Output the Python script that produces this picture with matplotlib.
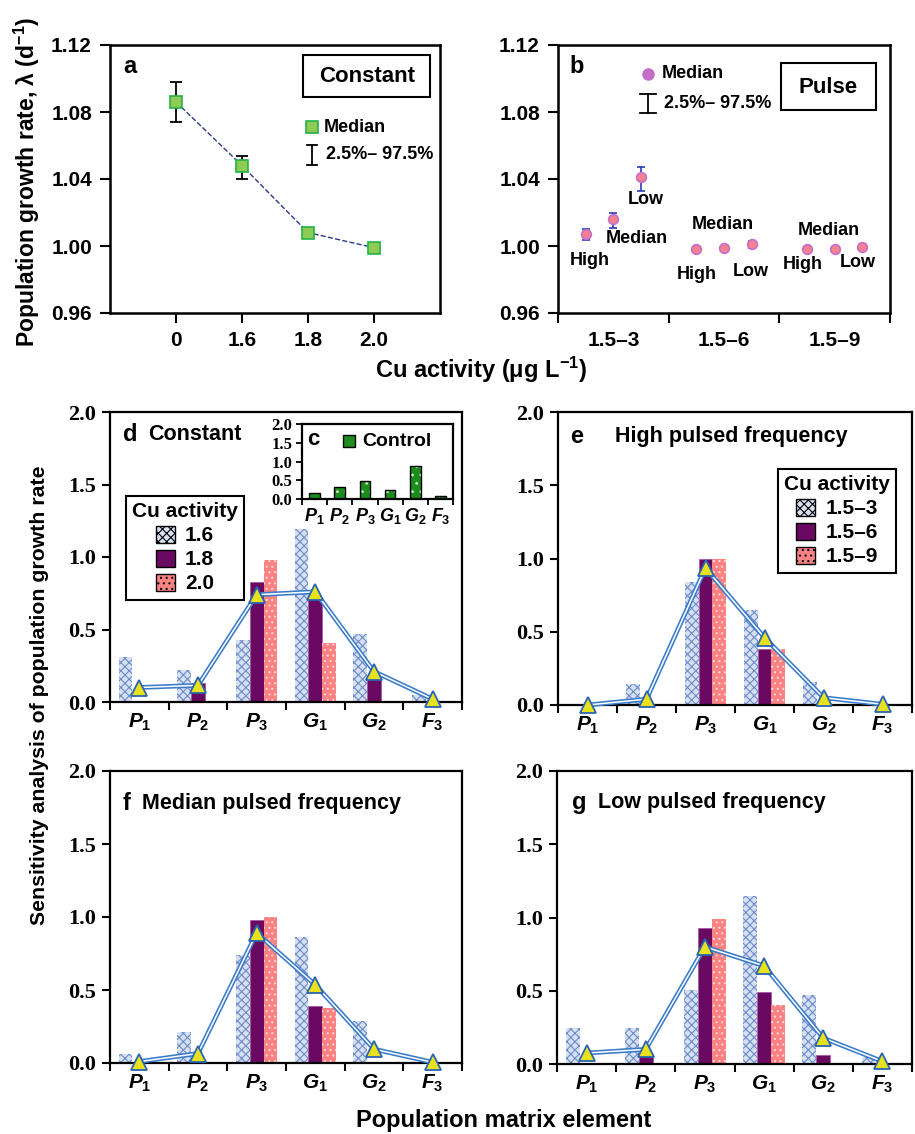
import numpy as np
import matplotlib
matplotlib.use('Agg')
import matplotlib.pyplot as plt
from matplotlib.patches import Rectangle, Patch

plt.rcParams['font.family'] = ['Liberation Sans', 'DejaVu Sans']
plt.rcParams['font.weight'] = 'bold'
plt.rcParams['mathtext.fontset'] = 'custom'
plt.rcParams['mathtext.rm'] = 'Liberation Sans:bold'
plt.rcParams['mathtext.it'] = 'Liberation Sans:italic:bold'
plt.rcParams['mathtext.bf'] = 'Liberation Sans:bold'
plt.rcParams['hatch.linewidth'] = 0.8

# ---- panel a: constant exposure ----
conc_const = ['0', '1.6', '1.8', '2.0']
lam_const = [1.086, 1.048, 1.008, 0.999]
lam_const_lo = [1.074, 1.040, 1.005, 0.999]
lam_const_hi = [1.098, 1.054, 1.011, 0.999]

# ---- panel b: pulse exposure (High, Median, Low frequency) ----
pulse_groups = ['1.5–3', '1.5–6', '1.5–9']
freq_names = ['High', 'Median', 'Low']
lam_pulse = [[1.007, 1.016, 1.041], [0.998, 0.9987, 1.0014], [0.998, 0.998, 0.9992]]
lam_pulse_lo = [[1.0036, 1.011, 1.033], [0.997, 0.9975, 0.9987], [0.997, 0.997, 0.998]]
lam_pulse_hi = [[1.0103, 1.020, 1.047], [0.999, 0.9995, 1.003], [0.9988, 0.9988, 0.9998]]

# ---- sensitivity panels ----
elements = [r'$P_1$', r'$P_2$', r'$P_3$', r'$G_1$', r'$G_2$', r'$F_3$']
control = [0.16, 0.31, 0.49, 0.24, 0.88, 0.08]

const_16 = [0.31, 0.22, 0.43, 1.19, 0.47, 0.05]
const_18 = [0.01, 0.13, 0.83, 0.71, 0.17, 0.01]
const_20 = [0.0, 0.005, 0.98, 0.41, 0.005, 0.01]
const_tri = [0.10, 0.115, 0.74, 0.76, 0.21, 0.02]

high_3 = [0.01, 0.14, 0.84, 0.65, 0.16, 0.01]
high_6 = [0.0, 0.0, 1.0, 0.38, 0.01, 0.0]
high_9 = [0.0, 0.0, 1.0, 0.38, 0.0, 0.0]
high_tri = [0.0, 0.04, 0.935, 0.46, 0.05, 0.005]

med_3 = [0.06, 0.21, 0.74, 0.86, 0.285, 0.01]
med_6 = [0.0, 0.01, 0.98, 0.39, 0.01, 0.0]
med_9 = [0.0, 0.0, 1.0, 0.375, 0.0, 0.0]
med_tri = [0.01, 0.065, 0.89, 0.535, 0.095, 0.005]

low_3 = [0.245, 0.245, 0.505, 1.145, 0.47, 0.05]
low_6 = [0.0, 0.057, 0.93, 0.49, 0.064, 0.0]
low_9 = [0.0, 0.005, 0.99, 0.40, 0.005, 0.0]
low_tri = [0.075, 0.10, 0.80, 0.67, 0.177, 0.018]

const_labels = ['1.6', '1.8', '2.0']
pulse_labels = ['1.5–3', '1.5–6', '1.5–9']

BLUE_FACE = '#d6e0f3'
BLUE_HATCH = '#6f8cc8'
PURPLE = '#690962'
SALMON = '#fa8282'
W, H = 915, 1134


def fx(px):
    return px / W


def fy(py):
    return 1 - py / H


def box(px0, py0, px1, py1):
    return [fx(px0), fy(py1), fx(px1) - fx(px0), fy(py0) - fy(py1)]


def spines(ax, lw=1.8):
    for s in ax.spines.values():
        s.set_linewidth(lw)


fig = plt.figure(figsize=(9.15, 11.34), dpi=100)

# ---------------- panel a ----------------
ax = fig.add_axes(box(110, 45, 440, 313))
spines(ax)
xa = np.arange(1, len(conc_const) + 1)
yerr = [np.array(lam_const) - np.array(lam_const_lo), np.array(lam_const_hi) - np.array(lam_const)]
ax.errorbar(xa, lam_const, yerr=yerr, fmt='none', ecolor='black', elinewidth=1.3, capsize=4, capthick=1.3)
ax.plot(xa, lam_const, ls='--', color='#2a3a8a', lw=1.0, zorder=3)
ax.plot(xa, lam_const, ls='none', marker='s', ms=8, mfc='#8fcc55', mec='#22b24a', mew=1.2, zorder=4)
ax.set_xlim(0, 5)
ax.set_ylim(0.96, 1.12)
ax.set_xticks(xa)
ax.set_xticklabels(conc_const)
ax.set_yticks([0.96, 1.00, 1.04, 1.08, 1.12])
ax.set_yticklabels(['0.96', '1.00', '1.04', '1.08', '1.12'])
ax.tick_params(direction='out', length=7, width=1.5, labelsize=15, pad=6)
ax.text(0.06, 0.918, 'a', transform=ax.transAxes, fontsize=17, ha='center', va='center')
ax.add_patch(Rectangle((0.585, 0.806), 0.385, 0.157, transform=ax.transAxes, fill=False, lw=1.5, ec='black'))
ax.text(0.779, 0.884, 'Constant', transform=ax.transAxes, fontsize=16, ha='center', va='center')
ax.plot([0.612], [0.694], transform=ax.transAxes, marker='s', ms=8, mfc='#8fcc55', mec='#22b24a', mew=1.2)
ax.text(0.648, 0.694, 'Median', transform=ax.transAxes, fontsize=13, va='center')
ax.plot([0.612, 0.612], [0.552, 0.627], transform=ax.transAxes, color='black', lw=1.3)
ax.plot([0.597, 0.627], [0.552, 0.552], transform=ax.transAxes, color='black', lw=1.3)
ax.plot([0.597, 0.627], [0.627, 0.627], transform=ax.transAxes, color='black', lw=1.3)
ax.text(0.655, 0.59, '2.5%– 97.5%', transform=ax.transAxes, fontsize=13, va='center')

# ---------------- panel b ----------------
ax = fig.add_axes(box(558, 45, 890, 313))
spines(ax)
offsets = [0.25, 0.5, 0.75]
for g in range(len(pulse_groups)):
    xs = [g + o for o in offsets]
    ys = np.array(lam_pulse[g])
    yerr = [ys - np.array(lam_pulse_lo[g]), np.array(lam_pulse_hi[g]) - ys]
    ax.errorbar(xs, ys, yerr=yerr, fmt='none', ecolor='#2b3bb5', elinewidth=1.2, capsize=3, capthick=1.2)
    ax.plot(xs, ys, ls='none', marker='o', ms=7, mfc='#f6808c', mec='#c070d0', mew=1.2, zorder=4)
label_pos = [[(0.29, 0.9916), (0.71, 1.0042), (0.79, 1.028)],
             [(1.25, 0.9827), (1.49, 1.013), (1.74, 0.9845)],
             [(2.21, 0.9887), (2.45, 1.009), (2.71, 0.9904)]]
for g in range(len(pulse_groups)):
    for k, name in enumerate(freq_names):
        ax.text(label_pos[g][k][0], label_pos[g][k][1], name, fontsize=13, ha='center', va='center')
ax.set_xlim(0, 3)
ax.set_ylim(0.96, 1.12)
ax.set_xticks([0, 1, 2, 3])
ax.set_xticklabels([])
ax.set_xticks([0.5, 1.5, 2.5], minor=True)
ax.set_xticklabels(pulse_groups, minor=True)
ax.tick_params(axis='x', which='minor', length=0, labelsize=15, pad=13)
ax.tick_params(axis='x', which='major', direction='out', length=7, width=1.5)
ax.set_yticks([0.96, 1.00, 1.04, 1.08, 1.12])
ax.set_yticklabels(['0.96', '1.00', '1.04', '1.08', '1.12'])
ax.tick_params(axis='y', direction='out', length=7, width=1.5, labelsize=15, pad=6)
ax.text(0.057, 0.918, 'b', transform=ax.transAxes, fontsize=17, ha='center', va='center')
ax.plot([0.271], [0.892], transform=ax.transAxes, marker='o', ms=8, mfc='#c46ec8', mec='#c46ec8')
ax.text(0.313, 0.892, 'Median', transform=ax.transAxes, fontsize=13, va='center')
ax.plot([0.271, 0.271], [0.746, 0.817], transform=ax.transAxes, color='black', lw=1.3)
ax.plot([0.247, 0.295], [0.746, 0.746], transform=ax.transAxes, color='black', lw=1.3)
ax.plot([0.247, 0.295], [0.817, 0.817], transform=ax.transAxes, color='black', lw=1.3)
ax.text(0.319, 0.78, '2.5%– 97.5%', transform=ax.transAxes, fontsize=13, va='center')
ax.add_patch(Rectangle((0.672, 0.757), 0.286, 0.176, transform=ax.transAxes, fill=False, lw=1.5, ec='black'))
ax.text(0.813, 0.843, 'Pulse', transform=ax.transAxes, fontsize=16, ha='center', va='center')

fig.text(fx(27), fy(182), r'Population growth rate, λ (d$^{-1}$)', rotation=90, fontsize=16.5,
         ha='center', va='center')
fig.text(fx(481), fy(370), r'Cu activity (μg L$^{-1}$)', fontsize=17, ha='center', va='center')


# ---------------- sensitivity bar panels ----------------
def bar_panel(rect, s1, s2, s3, tri, letter, title, title_x, letter_pos, leg_labels=None, leg_anchor=None):
    ax = fig.add_axes(rect)
    spines(ax, 1.6)
    x = np.arange(len(elements)) + 0.5
    bw = 0.235
    ax.bar(x - bw, s1, bw, color=BLUE_FACE, edgecolor=BLUE_HATCH, hatch='xxxx', lw=0)
    ax.bar(x, s2, bw, color=PURPLE, edgecolor='#a050a0', lw=0.5)
    ax.bar(x + bw, s3, bw, color=SALMON, edgecolor='#ffd6d6', hatch='...', lw=0)
    ax.plot(x, tri, color='#3a7cc8', lw=3.4, zorder=4, clip_on=False)
    ax.plot(x, tri, color='white', lw=1.1, zorder=5, clip_on=False)
    ax.plot(x, tri, ls='none', marker='^', ms=12, mfc='#e8e21e', mec='#2a64b4', mew=1.3, zorder=6,
            clip_on=False)
    ax.set_xlim(0, 6)
    ax.set_ylim(0, 2.0)
    ax.set_xticks(range(7))
    ax.set_xticklabels([])
    ax.set_xticks(x, minor=True)
    ax.set_xticklabels(elements, minor=True)
    ax.tick_params(axis='x', which='minor', length=0, labelsize=15, pad=7)
    ax.tick_params(axis='x', which='major', direction='out', length=6, width=1.5)
    ax.set_yticks([0.0, 0.5, 1.0, 1.5, 2.0])
    ax.set_yticklabels(['0.0', '0.5', '1.0', '1.5', '2.0'])
    ax.tick_params(axis='y', direction='out', length=6, width=1.5, labelsize=16, pad=4,
                   labelfontfamily='Liberation Serif')
    ax.text(letter_pos[0], letter_pos[1], letter, transform=ax.transAxes, fontsize=17,
            ha='center', va='center')
    ax.text(title_x, letter_pos[1], title, transform=ax.transAxes, fontsize=15.5, va='center')
    if leg_labels is not None:
        handles = [Patch(facecolor=BLUE_FACE, edgecolor=BLUE_HATCH, hatch='xxxx'),
                   Patch(facecolor=PURPLE, edgecolor='black'),
                   Patch(facecolor=SALMON, edgecolor='black', hatch='...')]
        leg = ax.legend(handles, leg_labels, title='Cu activity', loc='upper left',
                        bbox_to_anchor=leg_anchor, borderaxespad=0, fontsize=15,
                        title_fontproperties={'size': 15, 'weight': 'bold'},
                        handlelength=0.9, handleheight=0.9, handletextpad=0.5,
                        labelspacing=0.2, borderpad=0.3, fancybox=False, framealpha=1)
        leg.get_frame().set_edgecolor('black')
        leg.get_frame().set_linewidth(1.5)
        for h in leg.legend_handles:
            h.set_edgecolor('black')
            h.set_linewidth(1.0)
    return ax


axd = bar_panel(box(110, 412, 462, 702), const_16, const_18, const_20, const_tri, 'd', 'Constant',
                0.108, (0.057, 0.921), const_labels, (0.045, 0.71))
axe = bar_panel(box(558, 412, 912, 705), high_3, high_6, high_9, high_tri, 'e', 'High pulsed frequency',
                0.161, (0.054, 0.915), pulse_labels, (0.621, 0.805))
axf = bar_panel(box(110, 771, 462, 1063), med_3, med_6, med_9, med_tri, 'f', 'Median pulsed frequency',
                0.09, (0.048, 0.89))
axg = bar_panel(box(557, 771, 912, 1064), low_3, low_6, low_9, low_tri, 'g', 'Low pulsed frequency',
                0.115, (0.062, 0.894))

# ---------------- inset c ----------------
axc = fig.add_axes(box(302, 424, 453, 499))
spines(axc, 1.6)
xc = np.arange(len(elements)) + 0.5
axc.bar(xc, control, 0.43, color='#1c8c1c', edgecolor='#cfe8cf', hatch='..', lw=0)
axc.bar(xc, control, 0.43, fill=False, edgecolor='black', lw=1.0)
axc.set_xlim(0, 6)
axc.set_ylim(0, 2.0)
axc.set_xticks(range(7))
axc.set_xticklabels([])
axc.set_xticks(xc, minor=True)
axc.set_xticklabels(elements, minor=True)
axc.tick_params(axis='x', which='minor', length=0, labelsize=13, pad=5)
axc.tick_params(axis='x', which='major', direction='out', length=4, width=1.3)
axc.set_yticks([0.0, 0.5, 1.0, 1.5, 2.0])
axc.set_yticklabels(['0.0', '0.5', '1.0', '1.5', '2.0'])
axc.tick_params(axis='y', direction='out', length=4, width=1.3, labelsize=12, pad=3,
                labelfontfamily='Liberation Serif')
axc.text(0.073, 0.787, 'c', transform=axc.transAxes, fontsize=16, ha='center', va='center')
axc.plot([0.311], [0.773], transform=axc.transAxes, marker='s', ms=8, mfc='#1c8c1c', mec='black', mew=1.0)
axc.text(0.397, 0.773, 'Control', transform=axc.transAxes, fontsize=14, va='center')

fig.text(fx(40), fy(695), 'Sensitivity analysis of population growth rate', rotation=90, fontsize=15.3,
         ha='center', va='center')
fig.text(fx(504), fy(1120), 'Population matrix element', fontsize=17, ha='center', va='center')

fig.savefig('out.png', dpi=100)
